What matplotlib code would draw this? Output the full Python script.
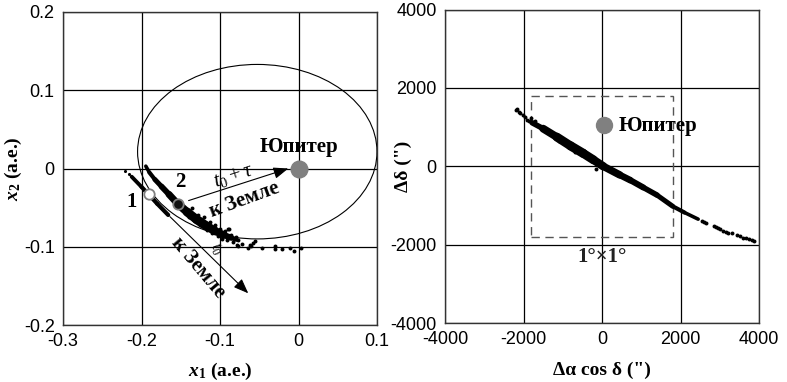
import matplotlib
matplotlib.use("Agg")
import matplotlib.pyplot as plt
from matplotlib.patches import Ellipse, Rectangle

plt.rcParams['font.family'] = ['Liberation Sans', 'DejaVu Sans']
plt.rcParams['mathtext.fontset'] = 'custom'
plt.rcParams['mathtext.rm'] = 'Liberation Serif'
plt.rcParams['mathtext.it'] = 'Liberation Serif:italic'
plt.rcParams['mathtext.bf'] = 'Liberation Serif:bold'
plt.rcParams['mathtext.bfit'] = 'Liberation Serif:bold:italic'

SERIF = ['Liberation Serif', 'DejaVu Serif']

# ---------------- data: left panel (a.e.) ----------------
left_xticks = [-0.3, -0.2, -0.1, 0, 0.1]
left_xlabels = ['-0.3', '-0.2', '-0.1', '0', '0.1']
left_yticks = [-0.2, -0.1, 0, 0.1, 0.2]
left_ylabels = ['-0.2', '-0.1', '0', '0.1', '0.2']

orbit_center = (-0.0525, 0.0215)
orbit_width = 0.305
orbit_height = 0.223

jupiter_xy = (0.0, 0.0)

s1_x = [-0.2125, -0.200, -0.190, -0.180, -0.166]
s1_y = [-0.0105, -0.0235, -0.0340, -0.0450, -0.0594]
s1_w = [2.8, 3.0, 3.0, 3.0]
s1_dots_x = [-0.2205, -0.2165]
s1_dots_y = [-0.0030, -0.0070]

s2_x = [-0.1945, -0.1900, -0.1830, -0.1745, -0.1650, -0.1540, -0.1420, -0.1300,
        -0.1180, -0.1060, -0.0950, -0.0860, -0.0790]
s2_y = [0.0030, -0.0050, -0.0140, -0.0230, -0.0330, -0.0450, -0.0555, -0.0650,
        -0.0730, -0.0800, -0.0850, -0.0885, -0.0910]
s2_w = [2.6, 3.0, 3.6, 4.2, 5.0, 5.8, 6.4, 6.6, 6.2, 5.4, 4.4, 3.2]
s2_dots_x = [-0.140, -0.136, -0.128, -0.125, -0.120, -0.117, -0.113, -0.110, -0.106,
             -0.103, -0.100, -0.097, -0.094, -0.091, -0.089, -0.086, -0.083, -0.080,
             -0.077, -0.0894, -0.0788, -0.0767, -0.0639, -0.0618, -0.0600, -0.0554,
             -0.0469, -0.0299, -0.0300, -0.0205, -0.0108, -0.0053, 0.0032, -0.0720,
             -0.0575]
s2_dots_y = [-0.0625, -0.0510, -0.0590, -0.0720, -0.0620, -0.0780, -0.0680, -0.0820,
             -0.0720, -0.0860, -0.0770, -0.0900, -0.0800, -0.0920, -0.0770, -0.0850,
             -0.0940, -0.0880, -0.0915, -0.0773, -0.0978, -0.0995, -0.1020, -0.0978,
             -0.0995, -0.0927, -0.1012, -0.0986, -0.1030, -0.1029, -0.1020, -0.1054,
             -0.1020, -0.0960, -0.0950]

mark1_xy = (-0.1910, -0.0330)
mark2_xy = (-0.1537, -0.0460)
label1_xy = (-0.2125, -0.0430)
label2_xy = (-0.1510, -0.0175)

arrow1_start = (-0.1400, -0.0410)
arrow1_end = (-0.0130, 0.0000)
arrow2_start = (-0.1637, -0.0616)
arrow2_end = (-0.0640, -0.1595)

# ---------------- data: right panel (arcsec) ----------------
right_ticks = [-4000, -2000, 0, 2000, 4000]
right_labels = ['-4000', '-2000', '0', '2000', '4000']

box_half = 1800
jupiter_r_xy = (50, 1050)

r_x = [-1780, -1500, -1150, -800, -480, -220, 30, 450, 720, 1050, 1400, 1800, 2100, 2450]
r_y = [1110, 960, 745, 520, 330, 165, 0, -220, -355, -540, -735, -1020, -1180, -1350]
r_w = [4.0, 5.6, 6.4, 6.6, 6.4, 6.0, 5.4, 4.8, 4.4, 4.0, 3.6, 3.0, 2.6]
r_dots_x = [-2190, -2160, -2120, -2080, -2020, -1960, -1900, -1850, -1820, -1700,
            -1100, -700, -160, 2550, 2600, 2650, 2850, 2900, 2950, 3000, 3080, 3150,
            3220, 3300, 3430, 3520, 3600, 3680, 3750, 3820, 3860]
r_dots_y = [1430, 1450, 1390, 1350, 1300, 1250, 1190, 1160, 1230, 1150,
            640, 360, -60, -1390, -1415, -1440, -1530, -1555, -1580, -1600, -1640, -1675,
            -1700, -1710, -1750, -1790, -1820, -1840, -1850, -1870, -1920]

# ---------------- figure ----------------
fig = plt.figure(figsize=(7.87, 3.82), dpi=100)
axL = fig.add_axes([63/787, 57/382, 314/787, 313/382])
axR = fig.add_axes([445/787, 59/382, 314/787, 313.5/382])

for ax in (axL, axR):
    ax.grid(True, color='black', lw=0.9)
    ax.set_axisbelow(True)
    ax.tick_params(length=0, labelsize=13, pad=6)
    for sp in ax.spines.values():
        sp.set_color('#333333')
        sp.set_linewidth(1.0)

# left
axL.set_xlim(-0.3, 0.1)
axL.set_ylim(-0.2, 0.2)
axL.set_xticks(left_xticks, left_xlabels)
axL.set_yticks(left_yticks, left_ylabels)
axL.set_xlabel(r'$\mathbfit{x}_\mathbf{1}$ (а.е.)', fontfamily=SERIF, fontweight='bold',
               fontsize=14)
axL.set_ylabel(r'$\mathbfit{x}_\mathbf{2}$ (а.е.)', fontfamily=SERIF, fontweight='bold',
               fontsize=14)
axL.xaxis.set_label_coords(0.5, -0.115)
axL.yaxis.set_label_coords(-0.125, 0.5)

axL.add_patch(Ellipse(orbit_center, orbit_width, orbit_height, fill=False,
                      ec='black', lw=0.8, zorder=3))

for i in range(len(s1_w)):
    axL.plot(s1_x[i:i+2], s1_y[i:i+2], color='black', lw=s1_w[i],
             solid_capstyle='round', zorder=4)
axL.scatter(s1_dots_x, s1_dots_y, s=5, color='black', zorder=4, lw=0)
for i in range(len(s2_w)):
    axL.plot(s2_x[i:i+2], s2_y[i:i+2], color='black', lw=s2_w[i],
             solid_capstyle='round', zorder=4)
axL.scatter(s2_dots_x, s2_dots_y, s=8, color='black', zorder=4, lw=0)

axL.plot(*jupiter_xy, 'o', color='#808080', ms=12, mec='#808080', zorder=6)
axL.text(jupiter_xy[0], jupiter_xy[1] + 0.027, 'Юпитер', fontfamily=SERIF,
         fontweight='bold', fontsize=15, ha='center', va='center', zorder=7)

axL.plot(*mark1_xy, 'o', ms=7.5, mfc='white', mec='#808080', mew=1.3, zorder=6)
axL.plot(*mark2_xy, 'o', ms=7.5, mfc='#111111', mec='#808080', mew=1.3, zorder=6)
axL.text(*label1_xy, '1', fontfamily=SERIF, fontweight='bold', fontsize=15,
         ha='center', va='center')
axL.text(*label2_xy, '2', fontfamily=SERIF, fontweight='bold', fontsize=15,
         ha='center', va='center')

aprops = dict(arrowstyle='-|>,head_length=0.9,head_width=0.35', color='black', lw=0.8,
              shrinkA=0, shrinkB=0)
axL.annotate('', xy=arrow1_end, xytext=arrow1_start, arrowprops=aprops, zorder=5)
axL.annotate('', xy=arrow2_end, xytext=arrow2_start, arrowprops=aprops, zorder=5)

axL.text(-0.083, -0.0095, r'$t_0+\tau$', fontsize=15, rotation=18,
         ha='center', va='center')
axL.text(-0.069, -0.0405, 'к Земле', fontfamily=SERIF, fontweight='bold', fontsize=15,
         rotation=20, ha='center', va='center')
axL.text(-0.128, -0.1265, 'к Земле', fontfamily=SERIF, fontweight='bold', fontsize=15,
         rotation=-50, ha='center', va='center')
axL.text(-0.1055, -0.1025, r'$t_0$', fontsize=12, rotation=-65,
         ha='center', va='center')

# right
axR.set_xlim(-4000, 4000)
axR.set_ylim(-4000, 4000)
axR.set_xticks(right_ticks, right_labels)
axR.set_yticks(right_ticks, right_labels)
axR.set_xlabel('Δα cos δ (")', fontfamily=SERIF, fontweight='bold', fontsize=14)
axR.set_ylabel('Δδ (")', fontfamily=SERIF, fontweight='bold', fontsize=14)
axR.xaxis.set_label_coords(0.5, -0.122)
axR.yaxis.set_label_coords(-0.105, 0.5)

axR.add_patch(Rectangle((-box_half, -box_half), 2*box_half, 2*box_half, fill=False,
                        ec='#555555', lw=1.0, ls=(0, (6, 4)), zorder=3))
axR.text(0, -2310, '1°×1°', fontfamily=SERIF, fontweight='bold', fontsize=15,
         ha='center', va='center', color='#222222')

for i in range(len(r_w)):
    axR.plot(r_x[i:i+2], r_y[i:i+2], color='black', lw=r_w[i],
             solid_capstyle='round', zorder=4)
axR.scatter(r_dots_x, r_dots_y, s=8, color='black', zorder=4, lw=0)

axR.plot(*jupiter_r_xy, 'o', color='#808080', ms=11.5, mec='#808080', zorder=6)
axR.text(420, 1020, 'Юпитер', fontfamily=SERIF, fontweight='bold', fontsize=15,
         ha='left', va='center', zorder=7)

fig.savefig('out.png', dpi=100)
